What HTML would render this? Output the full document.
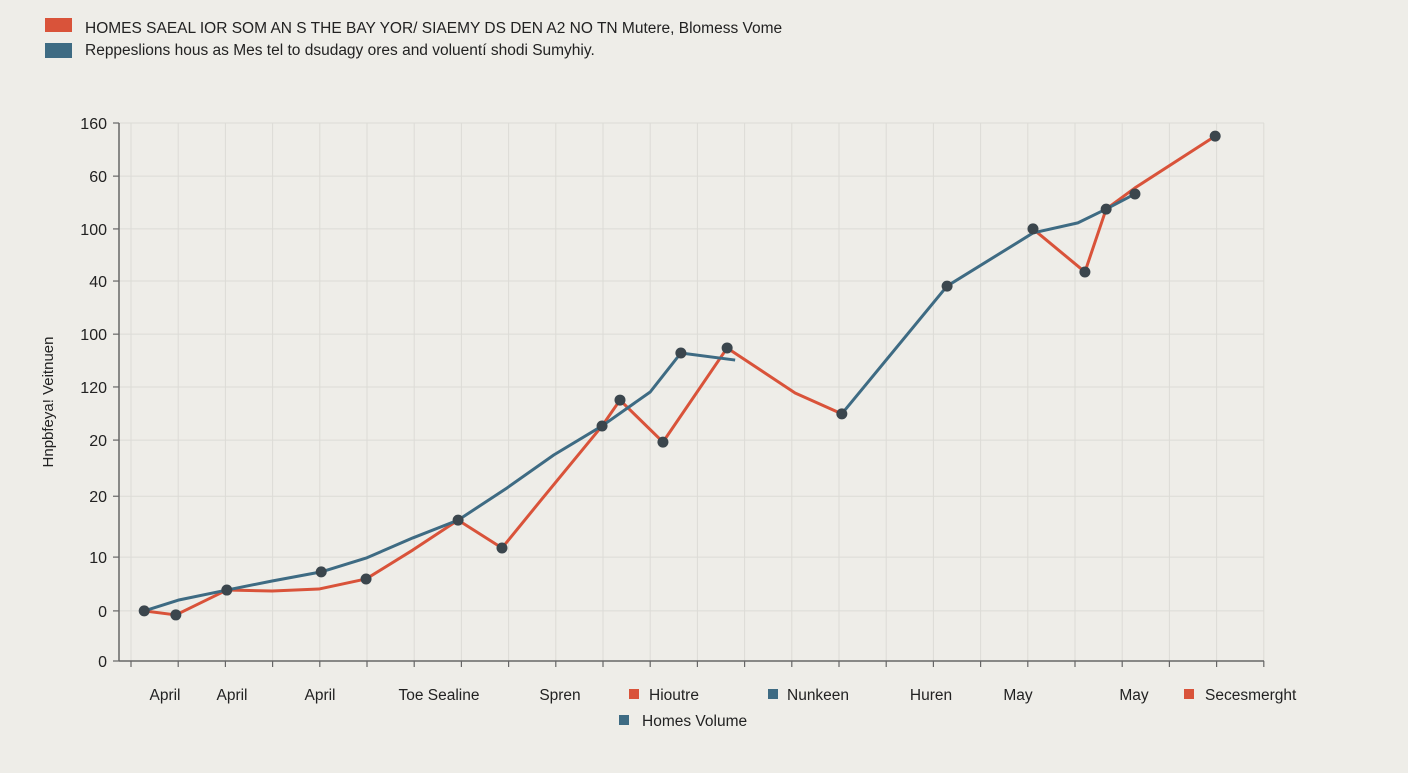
<!DOCTYPE html>
<html><head><meta charset="utf-8"><style>
html,body{margin:0;padding:0;background:#eeede8;}
body{width:1408px;height:768px;overflow:hidden;font-family:"Liberation Sans",sans-serif;}
svg text{font-family:"Liberation Sans",sans-serif;fill:#222;}
</style></head><body>
<svg id="chart" width="1408" height="768" viewBox="0 0 1408 768">
<g>
<rect x="45" y="18" width="27" height="14" fill="#d9533a"/>
<text x="85" y="33" font-size="15.5">HOMES SAEAL IOR SOM AN S THE BAY YOR/ SIAEMY DS DEN A2 NO TN Mutere, Blomess Vome</text>
<rect x="45" y="43" width="27" height="15" fill="#3e6b83"/>
<text x="85" y="55" font-size="15.5">Reppeslions hous as Mes tel to dsudagy ores and voluentí shodi Sumyhiy.</text>
</g>
<text transform="translate(53,402) rotate(-90)" text-anchor="middle" font-size="15">Hnpbfeya! Veitnuen</text>
<g id="grid"></g>
<g id="axes"></g>
<g id="series"></g>
<g font-size="15.5">
<text x="165" y="700" text-anchor="middle">April</text>
<text x="232" y="700" text-anchor="middle">April</text>
<text x="320" y="700" text-anchor="middle">April</text>
<text x="439" y="700" text-anchor="middle">Toe Sealine</text>
<text x="560" y="700" text-anchor="middle">Spren</text>
<rect x="629" y="689" width="10" height="10" fill="#d9533a"/>
<text x="649" y="700">Hioutre</text>
<rect x="768" y="689" width="10" height="10" fill="#3e6b83"/>
<text x="787" y="700">Nunkeen</text>
<text x="931" y="700" text-anchor="middle">Huren</text>
<text x="1018" y="700" text-anchor="middle">May</text>
<text x="1134" y="700" text-anchor="middle">May</text>
<rect x="1184" y="689" width="10" height="10" fill="#d9533a"/>
<text x="1205" y="700">Secesmerght</text>
<rect x="619" y="715" width="10" height="10" fill="#3e6b83"/>
<text x="642" y="726">Homes Volume</text>
</g>
</svg>
<script>
const tickValues = [0, 14.9, 30.9, 49, 65.7, 81.5, 97.2, 113, 128.5, 144.2, 160];
const tickLabels = ["0", "0", "10", "20", "20", "120", "100", "40", "100", "60", "160"];
const blueSeg1 = [[0.28,14.9],[1,18.1],[2.03,21.1],[2.99,23.8],[4.03,26.5],[4.98,30.6],[5.97,36.6],[6.93,41.9],[7.97,51.5],[8.96,61.3],[9.98,69.9],[11,80],[11.65,91.6],[12.8,89.5]];
const blueSeg2 = [[15.06,73.5],[17.29,111.5],[19.11,127.3],[20.06,130.3],[20.66,134.4],[21.27,138.9]];
const redSeg1 = [[0.28,14.9],[0.95,13.7],[2.03,21.1],[2.99,20.8],[3.98,21.4],[4.98,24.4],[5.97,33],[6.93,41.9],[7.86,33.6],[8.69,47.9],[9.98,69.9],[10.36,77.6],[11.27,65.1],[12.63,93.1],[14.07,79.7],[15.06,73.5]];
const redSeg2 = [[19.11,128.5],[20.21,115.7],[20.66,134.4],[21.27,140.7],[22.97,156.1]];
const markerPoints = [[0.28,14.9],[0.95,13.7],[2.03,21.1],[4.03,26.5],[4.98,24.4],[6.93,41.9],[7.86,33.6],[9.98,69.9],[10.36,77.6],[11.27,65.1],[11.65,91.6],[12.63,93.1],[15.06,73.5],[17.29,111.5],[19.11,128.5],[20.21,115.7],[20.66,134.4],[21.27,138.9],[22.97,156.1]];

const NS="http://www.w3.org/2000/svg";
const X0=131, XS=47.2, Y0=661, YT=123, VMAX=160;
const xs = u => X0 + u*XS;
const ys = v => Y0 - v/VMAX*(Y0-YT);
function mk(parent, tag, attrs){const e=document.createElementNS(NS,tag);for(const k in attrs)e.setAttribute(k,attrs[k]);parent.appendChild(e);return e;}
const grid=document.getElementById('grid'), axes=document.getElementById('axes'), series=document.getElementById('series');
for(let i=0;i<=24;i++){
  const x=xs(i);
  const l=mk(grid,'line',{x1:x,x2:x,y1:YT,y2:Y0,stroke:'#dcdbd6','stroke-width':1});
  
  
  const t=mk(axes,'line',{x1:x,x2:x,y1:Y0,y2:Y0+6,stroke:'#666','stroke-width':1.2});
  
  
}
tickValues.forEach((v,i)=>{
  const y=ys(v);
  if(v>0){const g=mk(grid,'line',{x1:119,x2:1264,y1:y,y2:y,stroke:'#dcdbd6','stroke-width':1});
  
  }
  const t=mk(axes,'line',{x1:113,x2:119,y1:y,y2:y,stroke:'#666','stroke-width':1.2});
  
  
  const tx=mk(axes,'text',{x:107,y:y+6,'text-anchor':'end','font-size':16});
  tx.textContent=tickLabels[i];
  
  
});
const ya=mk(axes,'line',{x1:119,x2:119,y1:YT,y2:Y0,stroke:'#666','stroke-width':1.5});


const xa=mk(axes,'line',{x1:119,x2:1264,y1:Y0,y2:Y0,stroke:'#666','stroke-width':1.5});


function line(seg,color,name){
  const p=mk(series,'polyline',{points:seg.map(d=>xs(d[0])+','+ys(d[1])).join(' '),fill:'none',stroke:color,'stroke-width':3,'stroke-linejoin':'round'});
  
  
}
line(redSeg1,'#d9533a','red-line-1');
line(redSeg2,'#d9533a','red-line-2');
line(blueSeg1,'#3e6b83','blue-line-1');
line(blueSeg2,'#3e6b83','blue-line-2');
markerPoints.forEach(d=>{
  const c=mk(series,'circle',{cx:xs(d[0]),cy:ys(d[1]),r:5.5,fill:'#3b464d'});
  
  
});
</script>
</body></html>
